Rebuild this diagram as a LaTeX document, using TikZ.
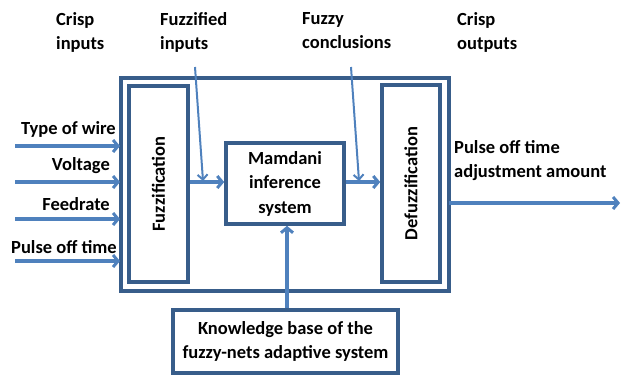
\documentclass[tikz,border=0pt]{standalone}
\usepackage{fontspec}
\setmainfont{Carlito}
\usetikzlibrary{arrows.meta}
\definecolor{boxc}{RGB}{56,93,138}
\definecolor{arrc}{RGB}{79,129,189}
\begin{document}
\begin{tikzpicture}[x=1pt,y=-1pt,
  box/.style={draw=boxc,line width=3.6pt,fill=white,inner sep=0pt},
  arr/.style={draw=arrc,line width=3.6pt,-{Straight Barb[length=5pt,width=12pt,line width=3pt]}},
  thinarr/.style={draw=arrc,line width=2pt,-{Straight Barb[length=5pt,width=10pt,line width=2pt]}},
  lbl/.style={font=\fontsize{18.5}{24.5}\selectfont\bfseries,inner sep=0pt,align=left},
  every node/.style={font=\fontsize{18.5}{24.5}\selectfont\bfseries}]
\useasboundingbox (0,0) rectangle (623,376);
% outer box
\draw[boxc,line width=3.6pt] (121,78) rectangle (449,291);
\node[box,minimum width=59pt,minimum height=196pt] (fuz) at (158.5,184) {};
\node[rotate=90] (fuzt) at (fuz.center) {Fuzzification};
\node[box,minimum width=58pt,minimum height=197pt] (def) at (411,183.5) {};
\node[rotate=90] (deft) at (def.center) {Defuzzification};
\node[box,minimum width=118pt,minimum height=81pt,align=center] (mam) at (285,183.5) {Mamdani\\inference\\system};
\node[box,minimum width=225pt,minimum height=63pt,align=center] (kb) at (285.5,341.5) {Knowledge base of the\\fuzzy-nets adaptive system};
% top labels
\node[lbl,anchor=north west] (crin) at (56,12) {Crisp\\inputs};
\node[lbl,anchor=north west] (fzin) at (160,12) {Fuzzified\\inputs};
\node[lbl,anchor=north west] (fzco) at (302,12) {Fuzzy\\conclusions};
\node[lbl,anchor=north west] (crout) at (457,12) {Crisp\\outputs};
\node[lbl,anchor=north west] (pout) at (454,140) {Pulse off time\\adjustment amount};
% input labels
\node[lbl,anchor=east] (l1) at (116,129) {Type of wire};
\node[lbl,anchor=east] (l2) at (110,166) {Voltage};
\node[lbl,anchor=east] (l3) at (110,204) {Feedrate};
\node[lbl,anchor=east] (l4) at (117,247) {Pulse off time};
% input arrows
\coordinate (i1) at (15,146);
\coordinate (i2) at (15,182);
\coordinate (i3) at (15,219);
\coordinate (i4) at (15,261);
\coordinate (e1) at (120,146);
\coordinate (e2) at (120,182);
\coordinate (e3) at (120,219);
\coordinate (e4) at (120,261);
\draw[arr] (i1) -- (e1);
\draw[arr] (i2) -- (e2);
\draw[arr] (i3) -- (e3);
\draw[arr] (i4) -- (e4);
% internal arrows
\draw[arr] (fuz.east |- 0,182) -- (mam.west |- 0,182);
\draw[arr] (mam.east |- 0,182) -- (def.west |- 0,182);
\coordinate (fzs) at (195,67);
\coordinate (fze) at (203,181);
\draw[thinarr] (fzs) -- (fze);
\coordinate (fcs) at (351,67);
\coordinate (fce) at (359,181);
\draw[thinarr] (fcs) -- (fce);
% output
\coordinate (oe) at (620,203);
\draw[arr] (449,203) -- (oe);
% kb to mamdani
\draw[arr] (kb.north -| 287,0) -- (mam.south -| 287,0);
\end{tikzpicture}
\end{document}
